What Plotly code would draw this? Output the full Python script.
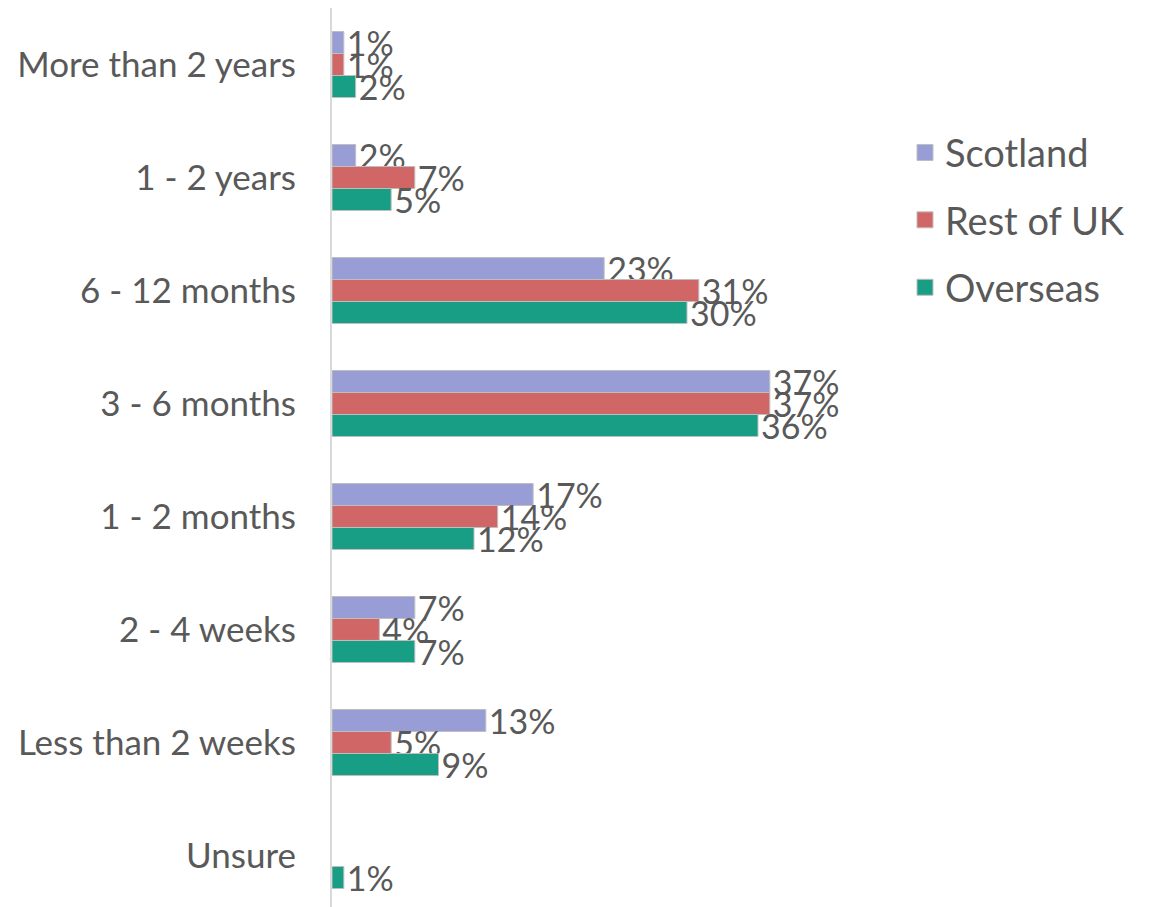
import plotly.graph_objects as go

categories = ["More than 2 years", "1 - 2 years", "6 - 12 months", "3 - 6 months",
              "1 - 2 months", "2 - 4 weeks", "Less than 2 weeks", "Unsure"]
scotland = [1, 2, 23, 37, 17, 7, 13, None]
rest_of_uk = [1, 7, 31, 37, 14, 4, 5, None]
overseas = [2, 5, 30, 36, 12, 7, 9, 1]

series = [("Scotland", scotland, "#989ed5"),
          ("Rest of UK", rest_of_uk, "#d06666"),
          ("Overseas", overseas, "#179e85")]

FONT = "Lato"
TXT = "#595959"
FS = 34

fig = go.Figure()
for name, vals, col in series:
    fig.add_trace(go.Bar(
        y=categories, x=vals, name=name, orientation="h",
        marker=dict(color=col, line=dict(color="#bfbfbf", width=1)),
        text=[f"{v}%" if v is not None else "" for v in vals],
        textposition="outside", constraintext="none", cliponaxis=False,
        textfont=dict(family=FONT, size=FS, color=TXT),
        showlegend=False,
    ))
# legend entries with square swatches
for name, vals, col in series:
    fig.add_trace(go.Scatter(
        x=[None], y=[None], mode="markers", name=name,
        marker=dict(symbol="square", size=17, color=col,
                    line=dict(color="#bfbfbf", width=1)),
        legendgroup=name, showlegend=True,
    ))

fig.update_layout(
    width=1151, height=899,
    margin=dict(l=324, r=259, t=0, b=0, autoexpand=False),
    paper_bgcolor="white", plot_bgcolor="white",
    barmode="group", bargap=0.416, bargroupgap=0,
    font=dict(family=FONT, size=FS, color=TXT),
    showlegend=True,
    legend=dict(x=1.0088, y=0.874, xanchor="left", yanchor="top",
                font=dict(family=FONT, size=38, color=TXT),
                tracegroupgap=15, bgcolor="rgba(0,0,0,0)"),
    xaxis=dict(range=[0, 48], showgrid=False, zeroline=False, showticklabels=False,
               showline=False, ticks="", automargin=False),
    yaxis=dict(categoryorder="array", categoryarray=categories,
               range=[7.456, -0.5], showgrid=False, zeroline=False,
               showline=True, linecolor="#d9d9d9", linewidth=2, ticks="",
               ticklabelstandoff=27, automargin=False,
               tickfont=dict(family=FONT, size=35, color=TXT)),
)

fig.write_html("out.html")
